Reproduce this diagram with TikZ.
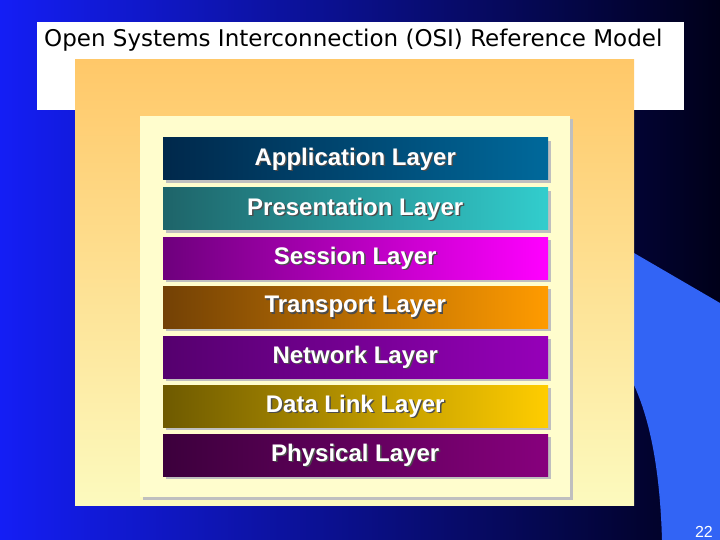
\documentclass[tikz,border=0pt]{standalone}
\usepackage{fontspec}
\setmainfont{Liberation Sans}
\newfontfamily\titlefont{DejaVu Sans}
\begin{document}
\begin{tikzpicture}[x=1pt,y=-1pt,
  layer/.style={minimum width=384pt,minimum height=42pt,inner sep=0pt,anchor=north west,
     font=\bfseries\fontsize{24}{26}\selectfont,text=white},
  shadowbox/.style={fill=black!25}]
\useasboundingbox (0,0) rectangle (720,540);
\shade[left color={rgb,255:red,20;green,30;blue,245}, right color={rgb,255:red,0;green,0;blue,25}] (0,0) rectangle (720,540);
\fill[color={rgb,255:red,50;green,100;blue,245}] (634,253) -- (720,303) -- (720,540) -- (662,540) .. controls (660,470) and (650,420) .. (634,385) -- cycle;
\node[draw=none,fill=white,minimum width=647pt,minimum height=88pt,anchor=north west,inner sep=0pt] (tb) at (37,22) {};
\node[anchor=west,font=\titlefont\fontsize{23}{26}\selectfont,inner sep=0pt] (title) at (44,40) {Open Systems Interconnection (OSI) Reference Model};
\shade[top color={rgb,255:red,255;green,200;blue,105}, bottom color={rgb,255:red,252;green,250;blue,190}] (75,60) rectangle (634,505);
\fill[black!25] (143,119) rectangle (573,500);
\fill[color={rgb,255:red,255;green,253;blue,205}] (140,116) rectangle (570,497);
\foreach \y/\l/\r/\t/\n in {
 138/{0,40,75}/{0,105,155}/Application Layer/app,
 188/{30,100,105}/{50,205,205}/Presentation Layer/pres,
 237/{110,0,125}/{255,0,255}/Session Layer/sess,
 286/{115,65,5}/{255,155,0}/Transport Layer/trans,
 336/{85,0,110}/{150,0,185}/Network Layer/net,
 385/{110,90,0}/{255,205,0}/Data Link Layer/dl,
 434/{60,0,60}/{135,0,125}/Physical Layer/phy}{
  \definecolor{lc}{RGB}{\l}\definecolor{rc}{RGB}{\r}
  \fill[black!25] (166,\y+3) rectangle (551,\y+45);
  \shade[left color=lc,right color=rc] (163,\y) rectangle (548,\y+42);
  \node[layer,text=black!70] at (164.5,\y+1.5) {\t};
  \node[layer] (\n) at (163,\y) {\t};
}
\node[anchor=east,text=white,font=\fontsize{16}{17}\selectfont,inner sep=0pt] (pg) at (713,532) {22};
\end{tikzpicture}
\end{document}
